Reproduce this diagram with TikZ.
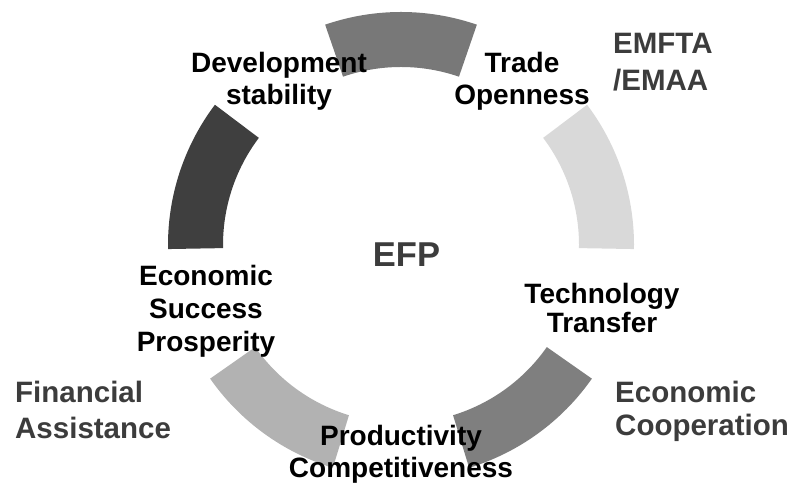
\documentclass[tikz,border=0pt]{standalone}
\usepackage{fontspec}
\setmainfont{Liberation Sans}
\definecolor{segtop}{HTML}{787878}
\definecolor{segright}{HTML}{D9D9D9}
\definecolor{segbright}{HTML}{7F7F7F}
\definecolor{segbleft}{HTML}{B2B2B2}
\definecolor{segleft}{HTML}{3F3F3F}
\definecolor{sidegray}{HTML}{3C3C3C}

\begin{document}
\begin{tikzpicture}[x=1pt, y=1pt,
        lbl/.style={font=\bfseries\fontsize{28}{#1}\selectfont, align=center, inner sep=0pt},
        lbl/.default=30,
        side/.style={font=\bfseries\fontsize{29.5}{#1}\selectfont, align=left, anchor=west, inner sep=0pt, text=sidegray},
        side/.default=36]
                \useasboundingbox (0,0) rectangle (795,484);
                \begin{scope}[shift={(401,239)}]
                \fill [segtop] (71:233) arc [start angle=71, end angle=109, radius=233] -- (109:178) arc [start angle=109, end angle=71, radius=178] -- cycle;
                \fill [segright] (-1:233) arc [start angle=-1, end angle=37, radius=233] -- (37:178) arc [start angle=37, end angle=-1, radius=178] -- cycle;
                \fill [segbright] (287:233) arc [start angle=287, end angle=325, radius=233] -- (325:178) arc [start angle=325, end angle=287, radius=178] -- cycle;
                \fill [segbleft] (215:233) arc [start angle=215, end angle=253, radius=233] -- (253:178) arc [start angle=253, end angle=215, radius=178] -- cycle;
                \fill [segleft] (143:233) arc [start angle=143, end angle=181, radius=233] -- (181:178) arc [start angle=181, end angle=143, radius=178] -- cycle;
                \end{scope}
                \node (efp) [font=\bfseries\fontsize{34.5}{36}\selectfont, text=sidegray, inner sep=0pt] at (406.5,229.5) {EFP};
                \node (dev) [lbl=32] at (279,403) {Development\\stability};
                \node (trade) [lbl=32] at (522,403) {Trade\\Openness};
                \node (tech) [lbl=29] at (602,176.5) {Technology\\Transfer};
                \node (prod) [lbl=32] at (401,30) {Productivity\\Competitiveness};
                \node (econ) [lbl=33] at (206,173) {Economic\\Success\\Prosperity};
                \node (emfta) [side=37] at (613,421.5) {EMFTA\\/EMAA};
                \node (coop) [side=33] at (615,72.5) {Economic\\Cooperation};
                \node (fin) [side] at (15,74.5) {Financial\\Assistance};
            \end{tikzpicture}
\end{document}
